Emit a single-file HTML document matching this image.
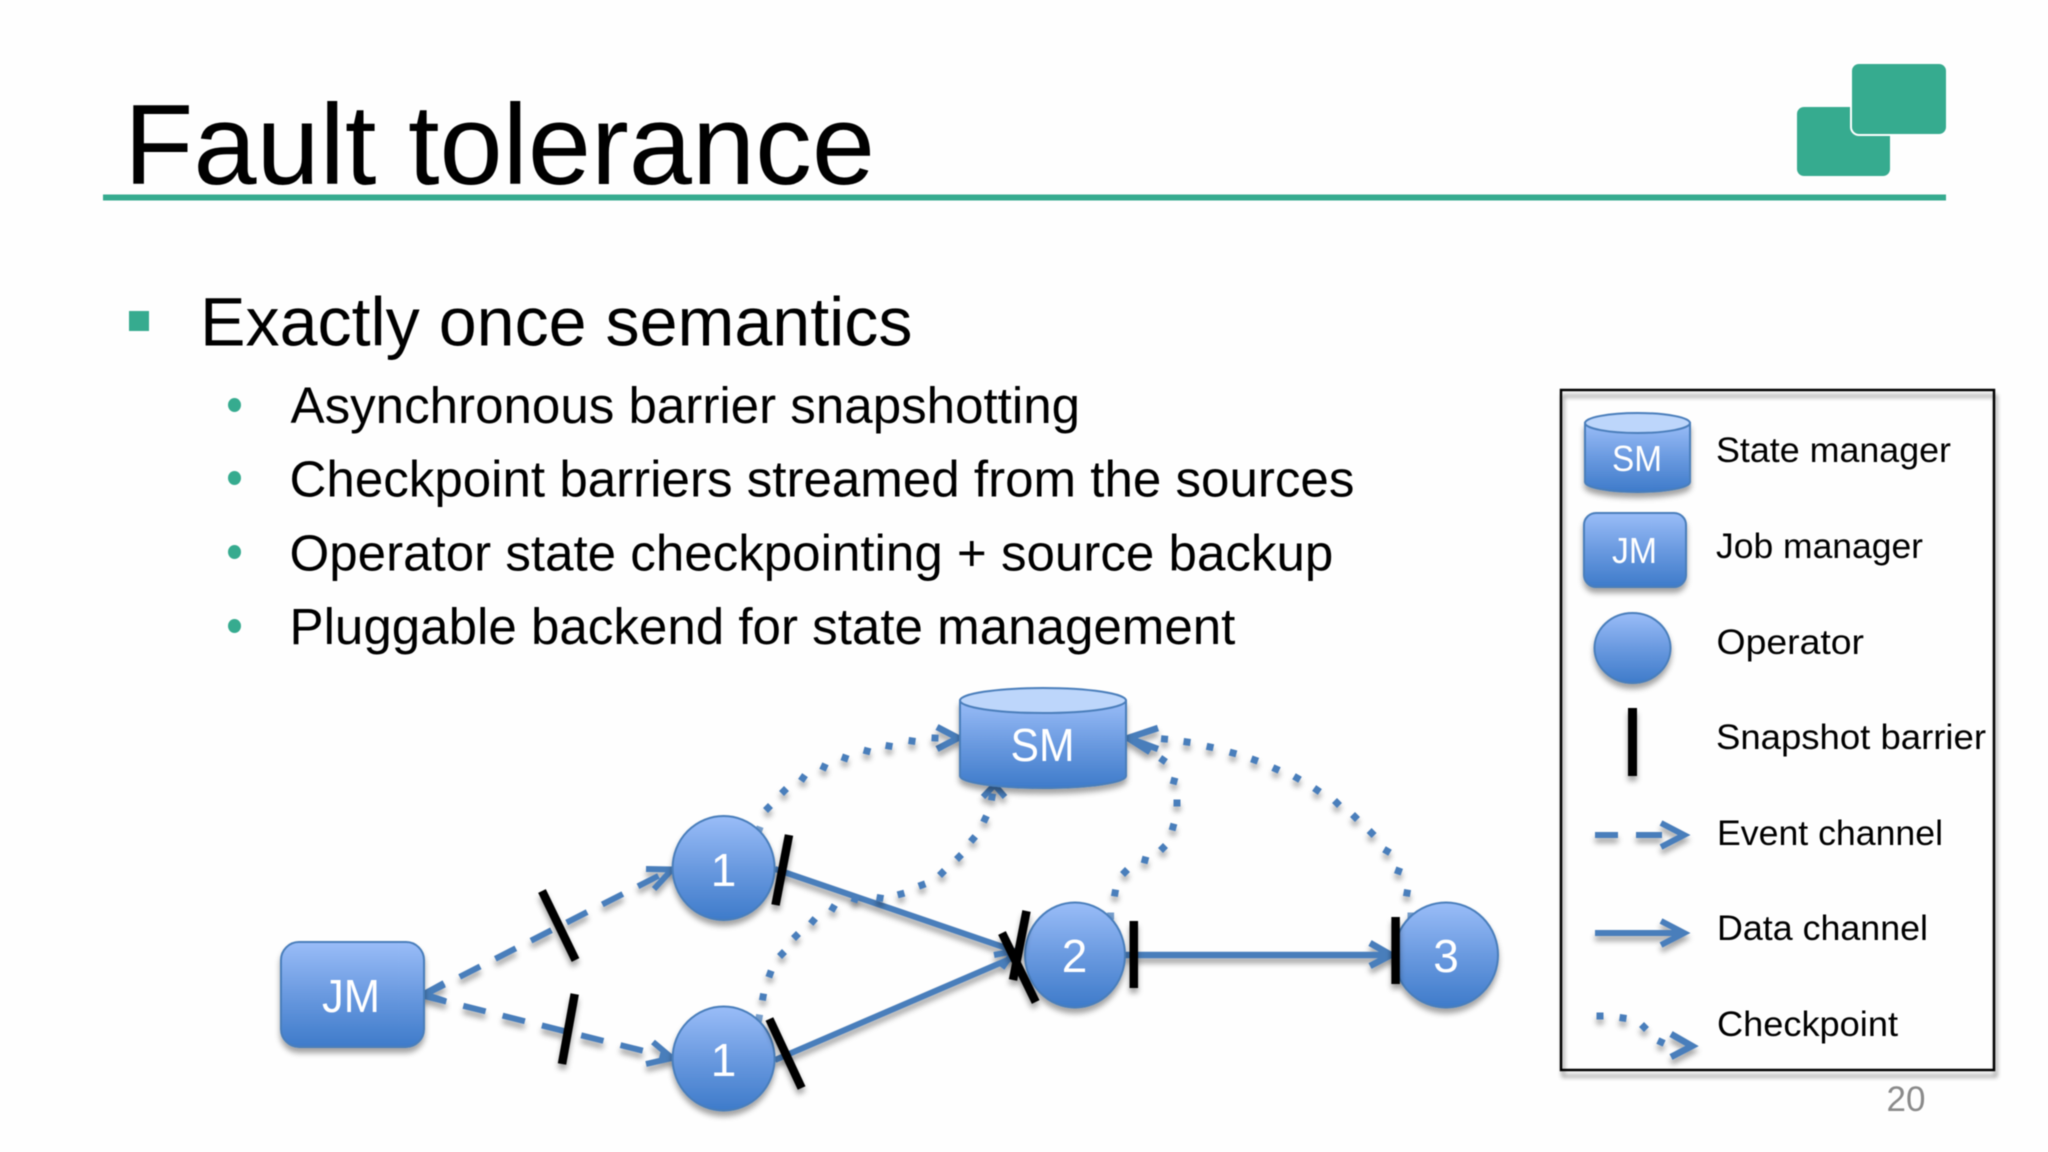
<!DOCTYPE html>
<html lang="en">
<head>
<meta charset="utf-8">
<title>Fault tolerance</title>
<style>
html,body{margin:0;padding:0;background:#fefefe;width:2048px;height:1152px;overflow:hidden}
svg{display:block;filter:blur(.5px)}
text{font-family:"Liberation Sans",sans-serif}
.w{fill:#fff;text-anchor:middle}
.l{fill:#000;font-size:35px}
.b{fill:#000;font-size:51.1px}
</style>
</head>
<body>
<svg width="2048" height="1152" viewBox="0 0 2048 1152" xmlns="http://www.w3.org/2000/svg">
<defs>
<linearGradient id="g" x1="0" y1="0" x2="0" y2="1">
<stop offset="0" stop-color="#9abdf8"/><stop offset=".5" stop-color="#6a9ae0"/><stop offset="1" stop-color="#3e7bca"/>
</linearGradient>
<filter id="s" x="-30%" y="-30%" width="160%" height="170%"><feDropShadow dx="0" dy="5" stdDeviation="3" flood-color="#000" flood-opacity=".36"/></filter>
<filter id="t" x="-10%" y="-10%" width="120%" height="120%"><feDropShadow dx="2" dy="6" stdDeviation="2.2" flood-color="#000" flood-opacity=".42"/></filter>
<rect id="d" x="-3.5" y="-3.5" width="7" height="7" fill="#4a7ebb"/>
</defs>
<rect width="2048" height="1152" fill="#fefefe"/>

<!-- Title -->
<text x="124" y="184" font-size="114" textLength="751" lengthAdjust="spacingAndGlyphs" fill="#000">Fault tolerance</text>
<rect x="103" y="194.500" width="1843" height="6" fill="#36ab8f"/>

<!-- Logo -->
<rect x="1797" y="107" width="93" height="69" rx="7" fill="#36ab8f"/>
<rect x="1850" y="62" width="97" height="74" rx="9" fill="#fff"/>
<rect x="1852" y="64" width="94" height="70" rx="7" fill="#36ab8f"/>

<!-- Bullets -->
<rect x="129" y="311" width="20" height="20" fill="#36ab8f"/>
<text x="200" y="345.500" font-size="68.200" fill="#000">Exactly once semantics</text>
<g fill="#36ab8f">
<ellipse cx="234.500" cy="405" rx="6.500" ry="7"/>
<ellipse cx="234.500" cy="478" rx="6.500" ry="7"/>
<ellipse cx="234.500" cy="552" rx="6.500" ry="7"/>
<ellipse cx="234.500" cy="626" rx="6.500" ry="7"/>
</g>
<text class="b" x="290.500" y="423">Asynchronous barrier snapshotting</text>
<text class="b" x="289.500" y="496.500">Checkpoint barriers streamed from the sources</text>
<text class="b" x="289.500" y="570.500">Operator state checkpointing + source backup</text>
<text class="b" x="289.500" y="644">Pluggable backend for state management</text>

<!-- Connectors -->
<g filter="url(#s)" fill="none" stroke="#4a7ebb" stroke-width="6">
<path d="M424 995 L672 869" stroke-dasharray="23 17"/>
<path d="M424 996 L672 1058" stroke-dasharray="23 17.500"/>
<path d="M646 869 L672 869.500 L654 889"/>
<path d="M653 1042 L672 1058 L646 1064"/>
<path d="M444 983 L424 994 L445 1001"/>
<path d="M775 869 L1012 950 M775 1060 L1012 958"/>
<path d="M994 955 L1014 951 L1002 968"/>
<path d="M1125 955 L1390 955" stroke-width="6.500"/>
<path d="M1370 943 L1391 955 L1370 966" stroke-width="6.500"/>
<path d="M937 727 L958 738 L937 749" stroke-width="6.500"/>
<path d="M1158 728 L1128 738 L1158 749" stroke-width="6.500"/>
<path d="M1128 738 L1150 752" stroke-width="6.500"/>
<path d="M983 797 L994.500 785 L1005 797" stroke-width="6"/>
</g>

<!-- Checkpoint dots -->
<g filter="url(#s)">
<use href="#d" transform="translate(759 830) rotate(20)" opacity=".75"/>
<use href="#d" transform="translate(768 808) rotate(45)"/>
<use href="#d" transform="translate(784 791) rotate(45)"/>
<use href="#d" transform="translate(803 778) rotate(35)"/>
<use href="#d" transform="translate(824 767) rotate(25)"/>
<use href="#d" transform="translate(845 758) rotate(20)"/>
<use href="#d" transform="translate(867 751) rotate(15)"/>
<use href="#d" transform="translate(889 746) rotate(10)"/>
<use href="#d" transform="translate(912 741) rotate(8)"/>
<use href="#d" transform="translate(935 738) rotate(3)"/>

<use href="#d" transform="translate(759 1018) rotate(10)" opacity=".75"/>
<use href="#d" transform="translate(763 997) rotate(10)"/>
<use href="#d" transform="translate(770 974) rotate(20)"/>
<use href="#d" transform="translate(782 954) rotate(45)"/>
<use href="#d" transform="translate(796 936) rotate(45)"/>
<use href="#d" transform="translate(813 921) rotate(40)"/>
<use href="#d" transform="translate(833 908) rotate(30)"/>
<use href="#d" transform="translate(855 899) rotate(20)"/>
<use href="#d" transform="translate(880 898) rotate(10)"/>
<use href="#d" transform="translate(901 894) rotate(-15)"/>
<use href="#d" transform="translate(922 885) rotate(-20)"/>
<use href="#d" transform="translate(942 873) rotate(45)"/>
<use href="#d" transform="translate(959 857) rotate(45)"/>
<use href="#d" transform="translate(973 839) rotate(40)"/>
<use href="#d" transform="translate(985 819) rotate(25)"/>
<use href="#d" transform="translate(992 797) rotate(10)"/>

<use href="#d" transform="translate(1110.600 916)" opacity=".75"/>
<use href="#d" transform="translate(1115 893) rotate(10)"/>
<use href="#d" transform="translate(1125 872) rotate(45)"/>
<use href="#d" transform="translate(1145 860) rotate(15)"/>
<use href="#d" transform="translate(1163 848) rotate(45)"/>
<use href="#d" transform="translate(1173 827) rotate(15)"/>
<use href="#d" transform="translate(1177 803)"/>
<use href="#d" transform="translate(1174 781) rotate(15)"/>
<use href="#d" transform="translate(1163 760) rotate(35)"/>

<use href="#d" transform="translate(1411 916)" opacity=".75"/>
<use href="#d" transform="translate(1407 893) rotate(10)"/>
<use href="#d" transform="translate(1398.500 871) rotate(20)"/>
<use href="#d" transform="translate(1387 851) rotate(30)"/>
<use href="#d" transform="translate(1371.600 833) rotate(45)"/>
<use href="#d" transform="translate(1355 817) rotate(45)"/>
<use href="#d" transform="translate(1337 803) rotate(45)"/>
<use href="#d" transform="translate(1317 790) rotate(35)"/>
<use href="#d" transform="translate(1297 778) rotate(30)"/>
<use href="#d" transform="translate(1276 769) rotate(25)"/>
<use href="#d" transform="translate(1254.600 760) rotate(20)"/>
<use href="#d" transform="translate(1233 753) rotate(15)"/>
<use href="#d" transform="translate(1210 747) rotate(12)"/>
<use href="#d" transform="translate(1187 742) rotate(8)"/>
<use href="#d" transform="translate(1164.500 739) rotate(5)"/>
</g>

<!-- Nodes -->
<g stroke="#4a7ebb" stroke-width="2" fill="url(#g)" filter="url(#s)">
<rect x="281" y="942" width="143" height="105" rx="18"/>
<ellipse cx="723.600" cy="868" rx="51" ry="52"/>
<ellipse cx="723.600" cy="1058.500" rx="51" ry="52"/>
<ellipse cx="1075" cy="955" rx="50" ry="52.500"/>
<ellipse cx="1446" cy="955" rx="52" ry="52.500"/>
<path d="M960 700.500 V776 A83 12 0 0 0 1126 776 V700.500 Z"/>
</g>
<ellipse cx="1043" cy="700.500" rx="83" ry="12.500" fill="#bdd6fb" stroke="#4a7ebb" stroke-width="2"/>
<text class="w" x="351" y="1012" font-size="46" textLength="58" lengthAdjust="spacingAndGlyphs">JM</text>
<text class="w" x="723.600" y="886" font-size="46">1</text>
<text class="w" x="723.600" y="1076" font-size="46">1</text>
<text class="w" x="1074.500" y="972" font-size="46">2</text>
<text class="w" x="1446" y="972" font-size="46">3</text>
<text class="w" x="1042.500" y="761" font-size="46" textLength="64" lengthAdjust="spacingAndGlyphs">SM</text>

<!-- Barriers -->
<g stroke="#000" stroke-width="8.500" fill="none" filter="url(#s)">
<path d="M542 891 L575.500 960"/>
<path d="M574.700 994 L562 1064"/>
<path d="M789 835 L775.500 905"/>
<path d="M769.400 1019 L801.600 1088"/>
<path d="M1026.500 911 L1013 980"/>
<path d="M1002 933 L1035.700 1002"/>
<path d="M1133.800 921 V988"/>
<path d="M1395.600 917 V984"/>
</g>

<!-- Legend -->
<rect x="1561" y="390" width="433" height="680" fill="none" stroke="#000" stroke-width="2.500" filter="url(#t)"/>
<g stroke="#4a7ebb" stroke-width="2" fill="url(#g)" filter="url(#s)">
<path d="M1585 423 V482 A52.500 10 0 0 0 1690 482 V423 Z"/>
<rect x="1584" y="513" width="102" height="74" rx="12"/>
<ellipse cx="1632.500" cy="648" rx="38" ry="35"/>
</g>
<ellipse cx="1637.500" cy="423" rx="52.500" ry="10" fill="#bdd6fb" stroke="#4a7ebb" stroke-width="2"/>
<text class="w" x="1637" y="471" font-size="36" textLength="50" lengthAdjust="spacingAndGlyphs">SM</text>
<text class="w" x="1634.500" y="563" font-size="36" textLength="45" lengthAdjust="spacingAndGlyphs">JM</text>

<g filter="url(#s)">
<rect x="1628" y="708" width="9" height="68" fill="#000"/>
<g fill="none" stroke="#4a7ebb" stroke-width="6">
<path d="M1595 835 H1618 M1636 835 H1662"/>
<path d="M1661 823 L1684 835 L1661 847"/>
<path d="M1595 933 H1682"/>
<path d="M1661 921 L1684 933 L1661 945"/>
<path d="M1671 1034 L1692 1046 L1671 1057" stroke-width="6.500"/>
</g>
<use href="#d" transform="translate(1600 1016)"/>
<use href="#d" transform="translate(1623 1018) rotate(8)"/>
<use href="#d" transform="translate(1644 1027) rotate(45)"/>
<use href="#d" transform="translate(1661 1042) rotate(25)"/>
</g>

<text class="l" x="1716" y="462" textLength="235" lengthAdjust="spacingAndGlyphs">State manager</text>
<text class="l" x="1716" y="558" textLength="207" lengthAdjust="spacingAndGlyphs">Job manager</text>
<text class="l" x="1716.500" y="654" textLength="147.500" lengthAdjust="spacingAndGlyphs">Operator</text>
<text class="l" x="1716" y="749" textLength="270" lengthAdjust="spacingAndGlyphs">Snapshot barrier</text>
<text class="l" x="1717" y="845" textLength="226" lengthAdjust="spacingAndGlyphs">Event channel</text>
<text class="l" x="1717" y="940" textLength="211" lengthAdjust="spacingAndGlyphs">Data channel</text>
<text class="l" x="1717" y="1036" textLength="181" lengthAdjust="spacingAndGlyphs">Checkpoint</text>

<text x="1886.500" y="1111" font-size="35" fill="#8a8a8a">20</text>
</svg>
</body>
</html>
